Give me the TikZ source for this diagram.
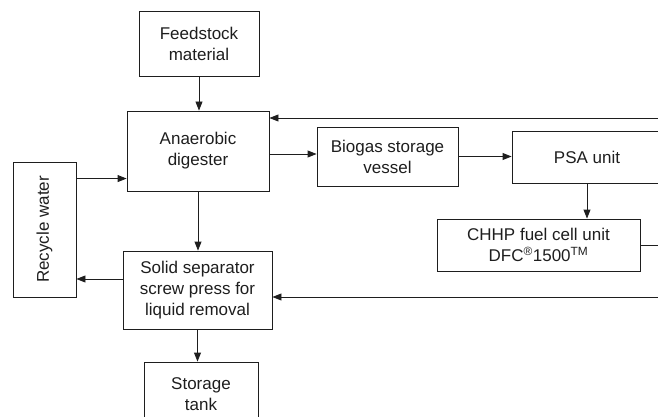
\documentclass[tikz,border=0pt]{standalone}
\usepackage{fontspec}
\setmainfont{Liberation Sans}
\usetikzlibrary{arrows.meta,calc}
\definecolor{ink}{HTML}{1E1E1E}
\tikzset{
  box/.style={draw=ink, line width=0.9pt, rectangle, inner sep=0pt, align=center,
    text=ink, font=\fontsize{17}{21}\selectfont},
  flow/.style={draw=ink, line width=0.9pt, -{Triangle[length=9pt,width=7pt]}},
  plain/.style={draw=ink, line width=0.9pt}
}
\begin{document}
\begin{tikzpicture}[x=1pt, y=-1pt]
  \useasboundingbox (0,0) rectangle (658,417);
  \clip (0,0) rectangle (658,417);

  % process blocks
  \node[box, minimum width=120pt, minimum height=65pt] (feed) at (199,43.5) {Feedstock\\material};
  \node[box, minimum width=142pt, minimum height=80pt] (dig) at (198,151) {Anaerobic\\digester};
  \node[box, minimum width=141pt, minimum height=59pt] (bio) at (387.5,156.5) {Biogas storage\\vessel};
  \node[box, minimum width=150pt, minimum height=52pt] (psa) at (587,157) {PSA unit};
  \node[box, minimum width=203pt, minimum height=52pt] (chhp) at (538.5,245)
    {CHHP fuel cell unit\\DFC\textsuperscript{\textregistered}1500\textsuperscript{TM}};
  \node[box, minimum width=63pt, minimum height=135pt,
    label={[rotate=90, text=ink, font=\fontsize{17}{21}\selectfont]center:Recycle water}] (rec) at (44.5,229.5) {};
  \node[box, minimum width=149pt, minimum height=78pt] (sep) at (197.5,290)
    {Solid separator\\screw press for\\liquid removal};
  \node[box, minimum width=114pt, minimum height=65pt] (tank) at (201,394.5) {Storage\\tank};

  % open ends at the right margin
  \coordinate (inTop) at (658,118);
  \coordinate (outC) at (658,245);
  \coordinate (inSep) at (658,297);

  % connectors
  \draw[flow] (feed.south) -- (feed.south |- dig.north);
  \draw[flow] (inTop) -- (inTop -| dig.east);
  \draw[flow] ([yshift=-3pt]dig.east) -- ([yshift=-3pt]dig.east -| bio.west);
  \draw[flow] (bio.east) -- (bio.east -| psa.west);
  \draw[flow] (psa.south) -- (psa.south |- chhp.north);
  \draw[plain] (chhp.east) -- (outC);
  \draw[flow] ([yshift=-17pt]rec.north east) -- ([yshift=-17pt]rec.north east -| dig.west);
  \draw[flow] (dig.south) -- (dig.south |- sep.north);
  \draw[flow] ([yshift=11pt]sep.west) -- ([yshift=11pt]sep.west -| rec.east);
  \draw[flow] (inSep) -- (inSep -| sep.east);
  \draw[flow] (sep.south) -- (sep.south |- tank.north);
\end{tikzpicture}
\end{document}
